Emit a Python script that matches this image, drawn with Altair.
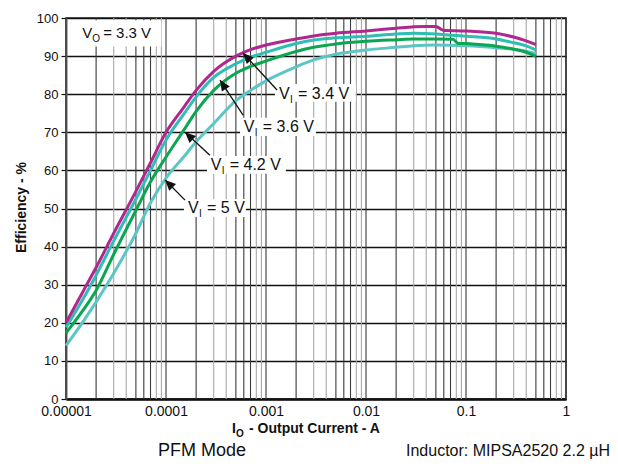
import altair as alt
import pandas as pd

FONT = "Liberation Sans"

# ---- data ----
series_names = ["VI = 5 V", "VI = 4.2 V", "VI = 3.6 V", "VI = 3.4 V"]
series_colors = ["#5CC6C6", "#0AA650", "#2DBFB4", "#B0288F"]

x_34 = [1e-5, 1.5e-5, 2e-5, 3e-5, 5e-5, 7e-5, 1e-4, 1.5e-4, 2e-4, 3e-4, 5e-4, 7e-4,
        1e-3, 2e-3, 3e-3, 5e-3, 1e-2, 2e-2, 3e-2, 4e-2, 5e-2, 0.059, 0.1, 0.2, 0.3, 0.4, 0.5]
y_34 = [20, 28.5, 34.5, 43.5, 54.5, 62, 70, 76.5, 81, 86, 90, 91.7,
        92.9, 94.5, 95.3, 96, 96.6, 97.3, 97.7, 97.8, 97.8, 96.8, 96.6, 96, 95, 94, 93]

x_36 = [1e-5, 1.5e-5, 2e-5, 3e-5, 5e-5, 7e-5, 1e-4, 1.5e-4, 2e-4, 3e-4, 5e-4, 7e-4,
        1e-3, 2e-3, 3e-3, 5e-3, 1e-2, 2e-2, 3e-2, 5e-2, 7e-2, 0.1, 0.2, 0.3, 0.4, 0.5]
y_36 = [18.8, 26.5, 32.5, 41.5, 52.5, 60, 68, 74.7, 79.3, 84.4, 88, 89.7,
        91, 93.3, 94.2, 94.8, 95.2, 95.8, 96, 95.8, 95.5, 95.2, 94.5, 93.5, 92.7, 91.6]

x_42 = [1e-5, 1.5e-5, 2e-5, 3e-5, 5e-5, 7e-5, 1e-4, 1.5e-4, 2e-4, 3e-4, 5e-4, 7e-4,
        1e-3, 2e-3, 3e-3, 5e-3, 1e-2, 2e-2, 3e-2, 5e-2, 0.074, 0.083, 0.1, 0.158, 0.2, 0.3, 0.4, 0.5]
y_42 = [17.3, 23.5, 28.5, 38, 49.5, 57, 63.5, 70.5, 75.5, 81, 85.5, 87.3,
        88.7, 91.2, 92.3, 93.2, 93.9, 94.3, 94.5, 94.5, 94.4, 93.4, 93.3, 92.9, 92.6, 91.8, 91, 89.9]

x_5 = [1e-5, 1.5e-5, 2e-5, 3e-5, 5e-5, 7e-5, 1e-4, 1.5e-4, 2e-4, 3e-4, 5e-4, 7e-4,
       1e-3, 2e-3, 3e-3, 5e-3, 1e-2, 2e-2, 3e-2, 5e-2, 0.1, 0.2, 0.3, 0.4, 0.5]
y_5 = [14, 20.5, 25.5, 33, 43.5, 51.5, 58, 63.5, 67.5, 72.3, 78.3, 81,
       83.5, 87.2, 89, 90.5, 91.6, 92.3, 92.7, 92.9, 92.7, 92.2, 91.8, 91.3, 90.7]

x_ticks = [1e-5, 1e-4, 1e-3, 1e-2, 1e-1, 1]
y_ticks = list(range(0, 101, 10))

# annotation labels (data units)
lab_sub = ["I", "I", "I", "I"]
lab_rest = ["= 3.4 V", "= 3.6 V", "= 4.2 V", "= 5 V"]
lab_x = [1.35e-3, 6.0e-4, 2.8e-4, 1.66e-4]
lab_y = [80.0, 71.4, 61.4, 50.1]
box_x0 = [1.23e-3, 5.5e-4, 2.57e-4, 1.51e-4]
box_x1 = [7.9e-3, 3.16e-3, 1.58e-3, 6.3e-4]
box_y0 = [78.0, 69.0, 59.1, 47.8]
box_y1 = [82.7, 73.8, 63.8, 52.5]
arr_x0 = [1.29e-3, 5.9e-4, 2.75e-4, 1.55e-4]
arr_y0 = [81.1, 74.5, 64.0, 52.2]
arr_x1 = [5.9e-4, 3.47e-4, 1.55e-4, 9.8e-5]
arr_y1 = [90.8, 83.7, 70.0, 57.5]
arr_ang = [317, 327, 313, 315]

# ---- tables ----
rows = []
for name, xs_, ys_ in zip(series_names, [x_5, x_42, x_36, x_34], [y_5, y_42, y_36, y_34]):
    for i, (a, b) in enumerate(zip(xs_, ys_)):
        rows.append({"s": name, "x": a, "y": b, "o": i})
curves = pd.DataFrame(rows)

grid_rows = []
dark_k = [1, 2, 5, 6, 7]
for d in [1e-5, 1e-4, 1e-3, 1e-2, 1e-1]:
    for k in range(1, 10):
        grid_rows.append({"x": k * d, "tone": "dark" if k in dark_k else "light"})
grid_rows.append({"x": 1.0, "tone": "dark"})
grid = pd.DataFrame(grid_rows)

ann = pd.DataFrame({
    "sub": lab_sub, "rest": lab_rest, "lx": lab_x, "ly": lab_y,
    "bx0": box_x0, "bx1": box_x1, "by0": box_y0, "by1": box_y1,
    "ax0": arr_x0, "ay0": arr_y0, "ax1": arr_x1, "ay1": arr_y1, "ang": arr_ang,
})
vo = pd.DataFrame({"lx": [1.45e-5], "ly": [96.0], "sub": ["O"], "rest": ["= 3.3 V"],
                   "bx0": [1.15e-5], "bx1": [9.0e-5], "by0": [92.5], "by1": [99.4]})

W, H = 500, 381
xsc = alt.Scale(type="log", domain=[1e-5, 1], nice=False)
ysc = alt.Scale(domain=[0, 100], nice=False)

x_axis = alt.Axis(values=x_ticks, format=".5~f", title=None, ticks=False,
                  grid=False, labelFont=FONT, labelFontSize=14, labelColor="#111",
                  labelPadding=5, domainColor="#111", domainWidth=2.5, labelFlush=False)
y_axis = alt.Axis(values=y_ticks, title="Efficiency - %", grid=True, gridColor="#111",
                  gridWidth=1.3, tickSize=5, tickColor="#111", tickWidth=1.2,
                  labelFont=FONT, labelFontSize=13, labelColor="#111", labelPadding=3,
                  domainColor="#666", domainWidth=2,
                  titleFont=FONT, titleFontSize=14, titleFontWeight="bold",
                  titleColor="#111", titleAngle=270, titleX=-45, titleY=189,
                  titleAlign="center", titleBaseline="middle")


def X(f):
    return alt.X(f, scale=xsc, axis=x_axis)


def Y(f):
    return alt.Y(f, scale=ysc, axis=y_axis)


vgrid = alt.Chart(grid).mark_rule(strokeWidth=1.1).encode(
    x=X("x:Q"),
    y=alt.value(0), y2=alt.value(H),
    stroke=alt.Stroke("tone:N", scale=alt.Scale(domain=["dark", "light"], range=["#3a3a3a", "#a8a8a8"]),
                      legend=None),
)

yaxis_holder = alt.Chart(pd.DataFrame({"y": [0], "x": [1e-3]})).mark_point(opacity=0).encode(
    x=X("x:Q"), y=Y("y:Q"))

lines = alt.Chart(curves).mark_line(strokeWidth=3, interpolate="monotone").encode(
    x=X("x:Q"),
    y=Y("y:Q"),
    color=alt.Color("s:N", scale=alt.Scale(domain=series_names, range=series_colors), legend=None),
    detail="s:N",
    order="o:Q",
)

boxes = alt.Chart(pd.concat([ann[["bx0", "bx1", "by0", "by1"]], vo[["bx0", "bx1", "by0", "by1"]]])).mark_rect(
    fill="white").encode(
    x=X("bx0:Q"), x2="bx1:Q",
    y=Y("by0:Q"), y2="by1:Q",
)

arrows = alt.Chart(ann).mark_rule(stroke="#111", strokeWidth=1.3).encode(
    x=X("ax0:Q"), x2="ax1:Q",
    y=Y("ay0:Q"), y2="ay1:Q",
)
heads = alt.Chart(ann).mark_point(
    shape="M0,0L-0.45,1L0.45,1Z", filled=True, fill="#111", opacity=1, size=450, strokeWidth=0
).encode(
    x=X("ax1:Q"), y=Y("ay1:Q"),
    angle=alt.Angle("ang:Q", scale=None),
)


def label_layers(df, size, sub_dx, rest_dx):
    v = alt.Chart(df).mark_text(text="V", font=FONT, fontSize=size, align="left",
                                baseline="middle", fill="#111").encode(
        x=X("lx:Q"), y=Y("ly:Q"))
    s = alt.Chart(df).mark_text(font=FONT, fontSize=10, align="left", baseline="middle",
                                dx=sub_dx, dy=6, fill="#111").encode(
        x=X("lx:Q"), y=Y("ly:Q"), text="sub:N")
    r = alt.Chart(df).mark_text(font=FONT, fontSize=size, align="left", baseline="middle",
                                dx=rest_dx, fill="#111").encode(
        x=X("lx:Q"), y=Y("ly:Q"), text="rest:N")
    return v + s + r


labels = label_layers(ann, 16, 11, 19)
vo_label = label_layers(vo, 15, 10, 21)

# x-axis title with subscript
xt = pd.DataFrame({"t": ["I"]})
xtitle = (
    alt.Chart(xt).mark_text(text="I", font=FONT, fontSize=14, fontWeight="bold", align="left",
                            baseline="middle", fill="#111").encode(x=alt.value(166), y=alt.value(411))
    + alt.Chart(xt).mark_text(text="O", font=FONT, fontSize=10, fontWeight="bold", align="left",
                              baseline="middle", fill="#111").encode(x=alt.value(170), y=alt.value(416))
    + alt.Chart(xt).mark_text(text="- Output Current - A", font=FONT, fontSize=14, fontWeight="bold",
                              align="left", baseline="middle", fill="#111").encode(
        x=alt.value(183), y=alt.value(411))
)

bottom = (
    alt.Chart(xt).mark_text(text="PFM Mode", font=FONT, fontSize=18, align="center",
                            baseline="middle", fill="#111").encode(x=alt.value(136), y=alt.value(433))
    + alt.Chart(xt).mark_text(text="Inductor: MIPSA2520 2.2 µH", font=FONT, fontSize=16, align="right",
                              baseline="middle", fill="#111").encode(x=alt.value(544), y=alt.value(433))
)

chart = alt.layer(
    yaxis_holder, vgrid, boxes, lines, arrows, heads, labels, vo_label, xtitle, bottom
).resolve_scale(color="independent", stroke="independent").properties(
    width=W, height=H,
    autosize=alt.AutoSizeParams(type="none"),
    padding={"left": 58, "top": 10, "right": 44, "bottom": 61},
).configure_view(stroke="#222", strokeWidth=1.5)

chart.save("out.html", embed_options={"renderer": "svg", "actions": False})
